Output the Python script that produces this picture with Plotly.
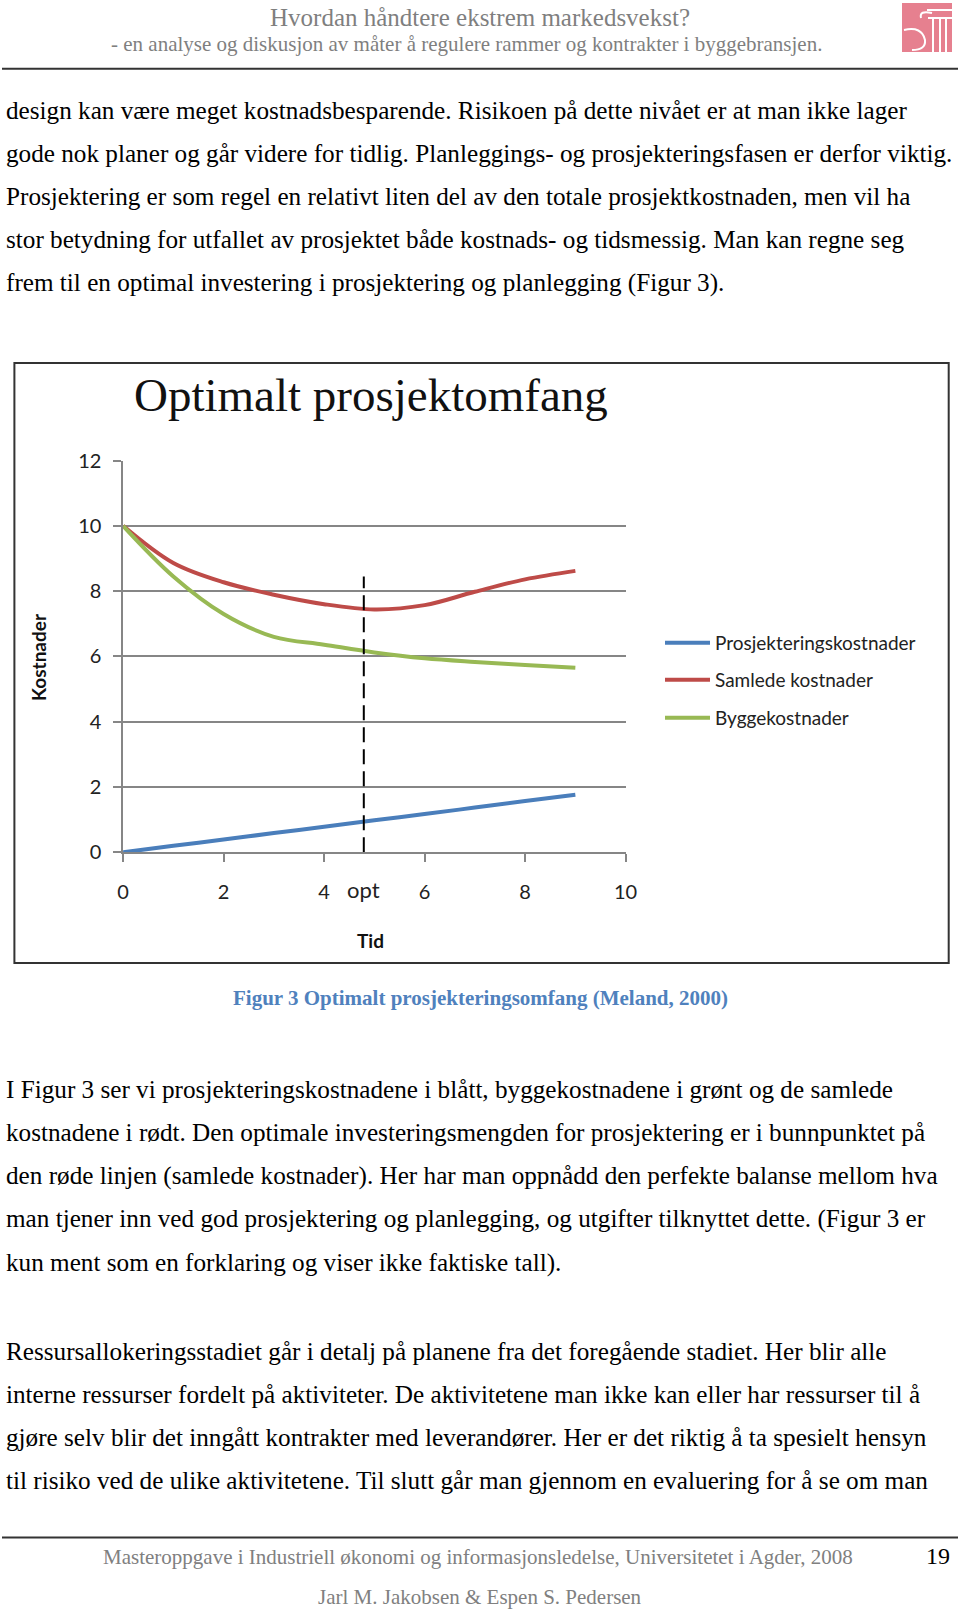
import plotly.graph_objects as go

W, H = 960, 1609

# chart data
tid = [0, 1, 2, 3, 4, 5, 6, 7, 8, 9]
prosjektering = [0, 0.2, 0.39, 0.59, 0.78, 0.98, 1.17, 1.37, 1.57, 1.76]
samlede = [10, 8.86, 8.27, 7.89, 7.60, 7.44, 7.57, 7.98, 8.36, 8.62]
bygge = [10, 8.45, 7.3, 6.6, 6.36, 6.12, 5.94, 5.83, 5.74, 5.65]
opt_x = [4.79, 4.79]
opt_y = [0, 8.45]
x_ticks = [0, 2, 4, 6, 8, 10]
y_ticks = [0, 2, 4, 6, 8, 10, 12]

series_names = ["Prosjekteringskostnader", "Samlede kostnader", "Byggekostnader"]
series_colors = ["#4a7ebb", "#be4b48", "#98b954"]

header_1 = "Hvordan håndtere ekstrem markedsvekst?"
header_2 = "- en analyse og diskusjon av måter å regulere rammer og kontrakter i byggebransjen."
body_top = [
    "design kan være meget kostnadsbesparende. Risikoen på dette nivået er at man ikke lager",
    "gode nok planer og går videre for tidlig. Planleggings- og prosjekteringsfasen er derfor viktig.",
    "Prosjektering er som regel en relativt liten del av den totale prosjektkostnaden, men vil ha",
    "stor betydning for utfallet av prosjektet både kostnads- og tidsmessig. Man kan regne seg",
    "frem til en optimal investering i prosjektering og planlegging (Figur 3).",
]
caption = "Figur 3 Optimalt prosjekteringsomfang (Meland, 2000)"
body_mid = [
    "I Figur 3 ser vi prosjekteringskostnadene i blått, byggekostnadene i grønt og de samlede",
    "kostnadene i rødt. Den optimale investeringsmengden for prosjektering er i bunnpunktet på",
    "den røde linjen (samlede kostnader). Her har man oppnådd den perfekte balanse mellom hva",
    "man tjener inn ved god prosjektering og planlegging, og utgifter tilknyttet dette. (Figur 3 er",
    "kun ment som en forklaring og viser ikke faktiske tall).",
]
body_low = [
    "Ressursallokeringsstadiet går i detalj på planene fra det foregående stadiet. Her blir alle",
    "interne ressurser fordelt på aktiviteter. De aktivitetene man ikke kan eller har ressurser til å",
    "gjøre selv blir det inngått kontrakter med leverandører. Her er det riktig å ta spesielt hensyn",
    "til risiko ved de ulike aktivitetene. Til slutt går man gjennom en evaluering for å se om man",
]
footer_1 = "Masteroppgave i Industriell økonomi og informasjonsledelse, Universitetet i Agder, 2008"
footer_2 = "Jarl M. Jakobsen & Espen S. Pedersen"
page_no = "19"


def px(x):
    return x / W


def py(y):
    return 1 - y / H


SERIF = "Liberation Serif"
SANS = "Lato"

fig = go.Figure()

ys = [prosjektering, samlede, bygge]
for i in range(3):
    fig.add_trace(go.Scatter(
        x=tid, y=ys[i], name=series_names[i], mode="lines",
        line=dict(color=series_colors[i], width=4, shape="spline", smoothing=1),
        legend="legend" if i == 0 else "legend%d" % (i + 1),
    ))

fig.add_trace(go.Scatter(x=opt_x, y=opt_y, mode="lines", showlegend=False,
                         line=dict(color="black", width=2, dash="15px,7px")))

ann = []


def text(s, x, y, size, color="black", xanchor="left", family=SERIF, **kw):
    ann.append(dict(text=s, x=px(x), y=py(y), xref="paper", yref="paper",
                    xanchor=xanchor, yanchor="middle", showarrow=False,
                    font=dict(family=family, size=size, color=color), **kw))


text(header_1, 480, 18, 25, "#7f7f7f", "center")
text(header_2, 466, 44, 21, "#7f7f7f", "center")

for i, s in enumerate(body_top):
    text(s, 4, 110 + i * 43.3, 25.2)
text("<b>" + caption + "</b>", 480, 998, 21, "#4f81bd", "center")
for i, s in enumerate(body_mid):
    text(s, 4, 1089 + i * 43.4, 25.2)
for i, s in enumerate(body_low):
    text(s, 4, 1351 + i * 43, 25.2)

text(footer_1, 478, 1557, 21, "#808080", "center")
text(page_no, 938, 1556, 24, "black", "center")
text(footer_2, 480, 1597, 21, "#808080", "center")

# chart texts
text("Optimalt prosjektomfang", 371, 395, 47, "#111", "center")
text("<b>Kostnader</b>", 38, 657, 19, "#111", "center", SANS, textangle=-90)
text("<b>Tid</b>", 370, 940, 19, "#111", "center", SANS)
ann.append(dict(text="opt", x=opt_x[0], y=py(890), xref="x", yref="paper",
                xanchor="center", yanchor="middle", showarrow=False,
                font=dict(family=SANS, size=22, color="#222")))

shapes = [
    dict(type="line", xref="paper", yref="paper", x0=px(2), x1=px(958),
         y0=py(68.7), y1=py(68.7), line=dict(color="#333", width=2)),
    dict(type="line", xref="paper", yref="paper", x0=px(2), x1=px(958),
         y0=py(1537.4), y1=py(1537.4), line=dict(color="#333", width=2)),
    dict(type="rect", xref="paper", yref="paper", x0=px(14.4), x1=px(948.7),
         y0=py(363), y1=py(963), line=dict(color="#333", width=2)),
    # logo
    dict(type="rect", xref="paper", yref="paper", x0=px(902), x1=px(952),
         y0=py(3), y1=py(52), line=dict(width=0), fillcolor="#e6808f"),
]
logo_lines = [
    (927, 10, 952, 10), (933, 18, 933, 52), (940, 18, 940, 52), (946, 18, 946, 52),
    (928, 18, 952, 18),
]
for x0, y0, x1, y1 in logo_lines:
    shapes.append(dict(type="line", xref="paper", yref="paper", x0=px(x0), x1=px(x1),
                       y0=py(y0), y1=py(y1), line=dict(color="white", width=2)))
shapes.append(dict(type="path", xref="paper", yref="paper",
                   path="M %f,%f Q %f,%f %f,%f Q %f,%f %f,%f" % (
                       px(904), py(30), px(922), py(26), px(925), py(40),
                       px(926), py(50), px(912), py(50)),
                   line=dict(color="white", width=2)))
shapes.append(dict(type="path", xref="paper", yref="paper",
                   path="M %f,%f Q %f,%f %f,%f" % (
                       px(932), py(13), px(919), py(10), px(921), py(18)),
                   line=dict(color="white", width=2)))

fig.update_layout(
    width=W, height=H, margin=dict(l=0, r=0, t=0, b=0, autoexpand=False),
    paper_bgcolor="white", plot_bgcolor="white",
    annotations=ann, shapes=shapes,
    xaxis=dict(domain=[px(123.1), px(625.6)], range=[0, 10], tickvals=x_ticks,
               showgrid=False, zeroline=False, showline=True, linecolor="#868686",
               linewidth=1.5, ticks="outside", ticklen=8, tickcolor="#868686",
               tickwidth=1.5, ticklabelstandoff=13, automargin=False,
               tickfont=dict(family=SANS, size=20, color="#222")),
    yaxis=dict(domain=[py(852.3), py(460.5)], range=[0, 12], tickvals=y_ticks,
               showgrid=True, gridcolor="#868686", gridwidth=1.5, zeroline=False,
               showline=True, linecolor="#868686", linewidth=1.5, ticks="outside",
               ticklen=8, tickcolor="#868686", tickwidth=1.5, ticklabelstandoff=8,
               automargin=False,
               tickfont=dict(family=SANS, size=20, color="#222")),
    showlegend=True,
)
leg_rows = [643, 680, 718]
for i, row in enumerate(leg_rows):
    key = "legend" if i == 0 else "legend%d" % (i + 1)
    fig.update_layout({key: dict(x=px(660), y=py(row), xanchor="left", yanchor="middle",
                                 bgcolor="rgba(0,0,0,0)", borderwidth=0,
                                 font=dict(family=SANS, size=19, color="#222"),
                                 itemwidth=45)})

page_css = ("document.documentElement.style.margin='0px';"
            "document.documentElement.style.overflow='hidden';"
            "document.body.style.margin='0px';"
            "document.body.style.overflow='hidden';")
fig.write_html("out.html", config={"displayModeBar": False}, post_script=page_css)
